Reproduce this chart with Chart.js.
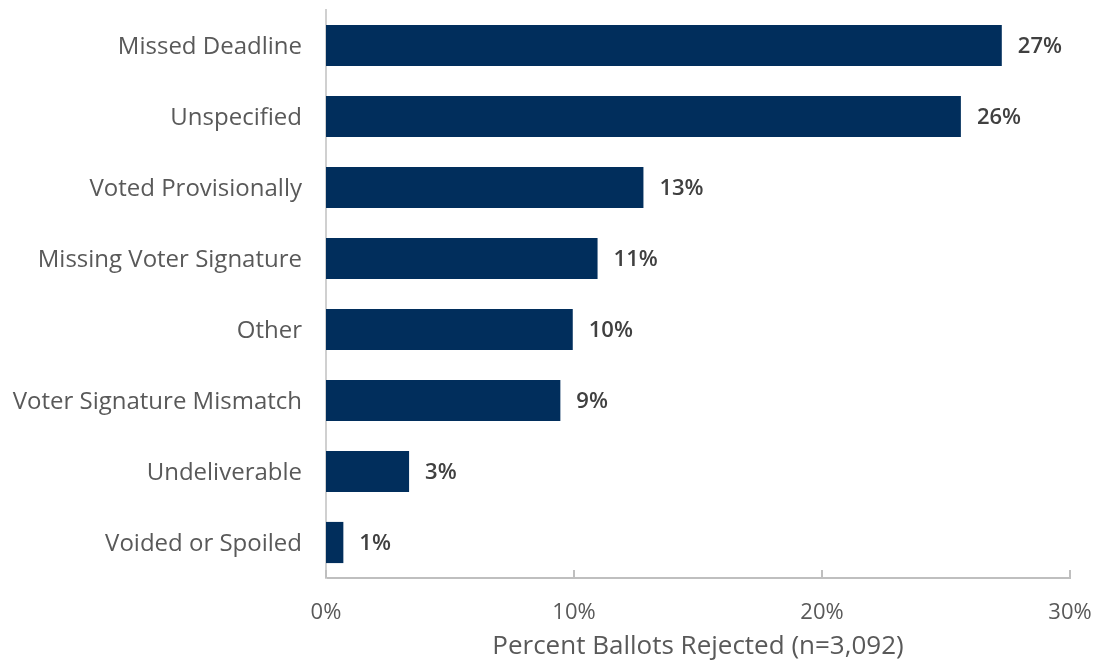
<!DOCTYPE html>
<html>
<head>
<meta charset="utf-8">
<script src="https://cdn.jsdelivr.net/npm/chart.js@4.4.1/dist/chart.umd.min.js"></script>
<style>
html,body{margin:0;padding:0;background:#fff;}
#wrap{width:1105px;height:662px;position:relative;}
</style>
</head>
<body>
<div id="wrap"><canvas id="c"></canvas></div>
<script>
const categories = ["Missed Deadline","Unspecified","Voted Provisionally","Missing Voter Signature","Other","Voter Signature Mismatch","Undeliverable","Voided or Spoiled"];
const values = [27.25, 25.6, 12.8, 10.95, 9.95, 9.45, 3.35, 0.7];
const valueLabels = ["27%","26%","13%","11%","10%","9%","3%","1%"];
const xTicks = [0, 10, 20, 30];
const xTitle = "Percent Ballots Rejected (n=3,092)";

const FONT = "'Open Sans', 'Liberation Sans', sans-serif";

const extras = {
  id: 'extras',
  afterDatasetsDraw(chart) {
    const ctx = chart.ctx;
    const meta = chart.getDatasetMeta(0);
    ctx.save();
    ctx.font = "600 22px " + FONT;
    ctx.fillStyle = "#404040";
    ctx.textAlign = "left";
    ctx.textBaseline = "middle";
    meta.data.forEach((bar, i) => {
      ctx.fillText(valueLabels[i], bar.x + 16, bar.y + 1);
    });
    const xs = chart.scales.x;
    const bottom = chart.chartArea.bottom;
    ctx.strokeStyle = "#BFBFBF";
    ctx.lineWidth = 2;
    xTicks.forEach(v => {
      const px = Math.round(xs.getPixelForValue(v));
      ctx.beginPath();
      ctx.moveTo(px, bottom - 8);
      ctx.lineTo(px, bottom);
      ctx.stroke();
    });
    ctx.restore();
  }
};

new Chart(document.getElementById('c'), {
  type: 'bar',
  data: {
    labels: categories,
    datasets: [{
      data: values,
      backgroundColor: "#012E5C",
      borderWidth: 0,
      categoryPercentage: 1,
      barPercentage: 0.58
    }]
  },
  options: {
    indexAxis: 'y',
    responsive: true,
    maintainAspectRatio: false,
    animation: false,
    layout: { padding: { top: 10, right: 35, left: 0, bottom: 0 } },
    plugins: { legend: { display: false }, tooltip: { enabled: false } },
    scales: {
      x: {
        min: 0, max: 30,
        afterBuildTicks(s) { s.ticks = xTicks.map(v => ({ value: v })); },
        afterFit(s) { s.height = 84; s.paddingLeft = 0; s.paddingRight = 0; },
        grid: { display: false, drawTicks: false },
        border: { display: true, color: "#BFBFBF", width: 2 },
        ticks: {
          color: "#595959",
          font: { family: FONT, size: 22 },
          padding: 22,
          maxRotation: 0,
          callback: v => v + "%"
        },
        title: {
          display: true,
          text: xTitle,
          color: "#595959",
          font: { family: FONT, size: 26 },
          padding: { top: -3, bottom: 0 }
        }
      },
      y: {
        afterFit(s) { s.width = 326; s.paddingTop = 0; s.paddingBottom = 0; },
        grid: { display: false, drawTicks: false },
        border: { display: true, color: "#D0D0D0", width: 2 },
        ticks: {
          color: "#595959",
          font: { family: FONT, size: 24 },
          padding: 24,
          labelOffset: 2
        }
      }
    }
  },
  plugins: [extras]
});
</script>
</body>
</html>
